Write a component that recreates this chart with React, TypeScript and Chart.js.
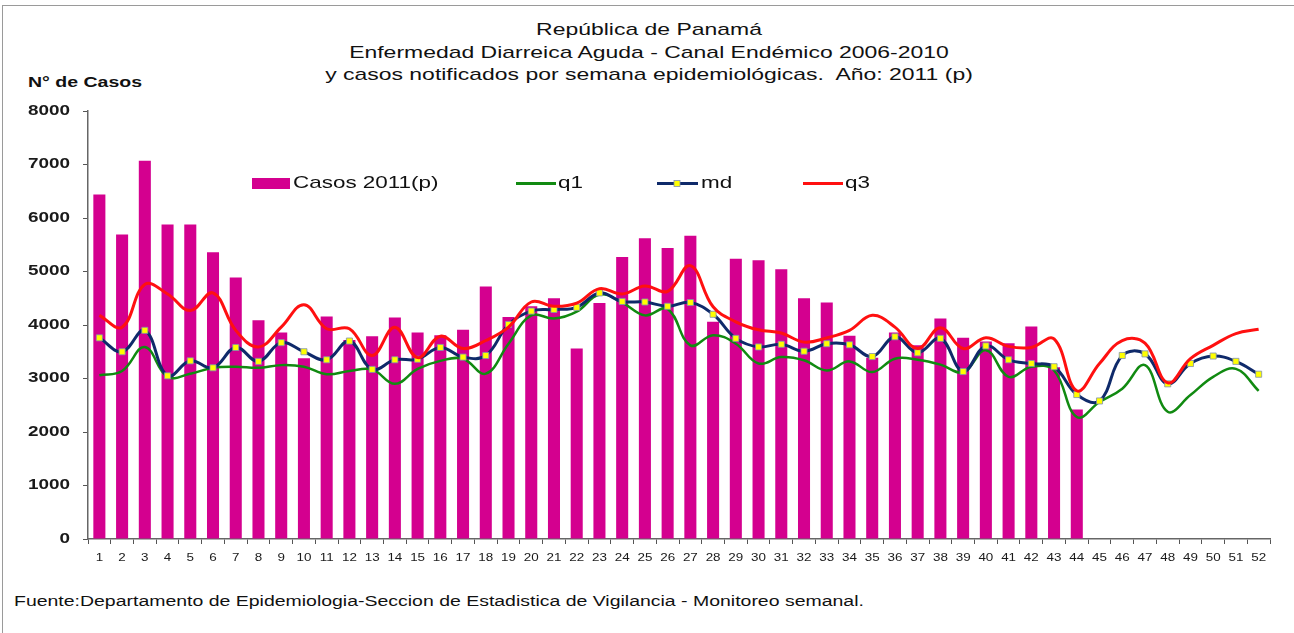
import React, { useEffect, useRef } from "react";
import { Chart, registerables } from "chart.js";

Chart.register(...registerables);

const weeks = ["1","2","3","4","5","6","7","8","9","10","11","12","13","14","15","16","17","18","19","20","21","22","23","24","25","26","27","28","29","30","31","32","33","34","35","36","37","38","39","40","41","42","43","44","45","46","47","48","49","50","51","52"];

const casos2011 = [6440, 5690, 7070, 5880, 5880, 5360, 4890, 4090, 3860, 3380, 4160, 3720, 3790, 4140, 3860, 3810, 3910, 4720, 4150, 4350, 4500, 3560, 4410, 5270, 5620, 5440, 5670, 4060, 5240, 5210, 5040, 4500, 4420, 3800, 3390, 3860, 3620, 4120, 3760, 3690, 3660, 3970, 3210, 2420];

const q1 = [3060, 3140, 3590, 3030, 3090, 3200, 3220, 3200, 3250, 3220, 3080, 3140, 3170, 2900, 3180, 3330, 3370, 3090, 3650, 4180, 4120, 4250, 4570, 4420, 4180, 4300, 3620, 3810, 3650, 3280, 3400, 3340, 3150, 3320, 3120, 3370, 3350, 3260, 3120, 3530, 3030, 3220, 3150, 2280, 2560, 2810, 3250, 2380, 2690, 3030, 3180, 2770];

const md = [3760, 3500, 3900, 3050, 3330, 3200, 3580, 3320, 3670, 3500, 3350, 3700, 3170, 3350, 3360, 3580, 3400, 3430, 4010, 4260, 4290, 4330, 4600, 4440, 4430, 4350, 4420, 4200, 3750, 3590, 3640, 3510, 3650, 3630, 3410, 3780, 3480, 3750, 3130, 3610, 3350, 3280, 3220, 2700, 2580, 3430, 3460, 2900, 3280, 3420, 3320, 3080];

const q3 = [4180, 3960, 4760, 4580, 4270, 4600, 3900, 3590, 3960, 4380, 3930, 3930, 3430, 3960, 3390, 3790, 3560, 3710, 3960, 4430, 4350, 4410, 4680, 4580, 4730, 4630, 5110, 4340, 4060, 3910, 3850, 3680, 3760, 3900, 4180, 3960, 3560, 3950, 3560, 3760, 3600, 3580, 3740, 2770, 3280, 3710, 3660, 2920, 3370, 3620, 3840, 3920];

const yTicks = [0, 1000, 2000, 3000, 4000, 5000, 6000, 7000, 8000];

const titleLines = [
  "República de Panamá",
  "Enfermedad Diarreica Aguda - Canal Endémico 2006-2010",
  "y casos notificados por semana epidemiológicas.  Año: 2011 (p)",
];
const yAxisTitle = "N° de Casos";
const sourceNote = "Fuente:Departamento de Epidemiologia-Seccion de Estadistica de Vigilancia - Monitoreo semanal.";
const legendLabels = ["Casos 2011(p)", "q1", "md", "q3"];

const BAR = "#d4008f";
const GREEN = "#118a11";
const NAVY = "#0f2a6a";
const RED = "#ff1010";
const FONT = "'Liberation Sans', Arial, sans-serif";

const customDraw = {
  id: "customDraw",
  afterDraw(chart: any) {
    const ctx = chart.ctx as CanvasRenderingContext2D;
    const xs = chart.scales.x;
    const ys = chart.scales.y;
    ctx.save();
    ctx.fillStyle = "#1a1a1a";
    // y tick labels
    ctx.font = `bold 14px ${FONT}`;
    ctx.textAlign = "right";
    ctx.textBaseline = "middle";
    yTicks.forEach((v) => {
      const py = ys.getPixelForValue(v);
      ctx.save();
      ctx.translate(70, py);
      ctx.scale(1.35, 1);
      ctx.fillText(String(v), 0, 0);
      ctx.restore();
    });
    // x tick labels
    ctx.font = `11px ${FONT}`;
    ctx.textAlign = "center";
    weeks.forEach((w, i) => {
      const px = xs.getPixelForValue(i);
      ctx.save();
      ctx.translate(px, 558);
      ctx.scale(1.22, 1);
      ctx.fillText(w, 0, 0);
      ctx.restore();
    });
    // legend
    const ly = 183.5;
    ctx.font = `17px ${FONT}`;
    ctx.textAlign = "left";
    ctx.fillStyle = BAR;
    ctx.fillRect(252, 178, 38, 11);
    const drawText = (t: string, x: number) => {
      ctx.save();
      ctx.fillStyle = "#111";
      ctx.translate(x, ly);
      ctx.scale(1.32, 1);
      ctx.fillText(t, 0, 0);
      ctx.restore();
    };
    drawText(legendLabels[0], 293);
    const line = (x1: number, x2: number, c: string) => {
      ctx.strokeStyle = c;
      ctx.lineWidth = 3;
      ctx.beginPath();
      ctx.moveTo(x1, ly);
      ctx.lineTo(x2, ly);
      ctx.stroke();
    };
    line(516, 556, GREEN);
    drawText(legendLabels[1], 558);
    line(657, 698, NAVY);
    ctx.fillStyle = "#ffff00";
    ctx.fillRect(674, 180.5, 6, 6);
    ctx.strokeStyle = "#8090b0";
    ctx.lineWidth = 0.8;
    ctx.strokeRect(674, 180.5, 6, 6);
    drawText(legendLabels[2], 701);
    line(803, 843, RED);
    drawText(legendLabels[3], 845);
    ctx.restore();
  },
};

export default function App() {
  const ref = useRef<HTMLCanvasElement>(null);
  useEffect(() => {
    if (!ref.current) return;
    const chart = new Chart(ref.current, {
      type: "bar",
      data: {
        labels: weeks,
        datasets: [
          {
            type: "line",
            label: "q3",
            data: q3,
            borderColor: RED,
            backgroundColor: RED,
            borderWidth: 3,
            pointRadius: 0,
            tension: 0.4,
            order: 1,
          } as any,
          {
            type: "line",
            label: "md",
            data: md,
            borderColor: NAVY,
            backgroundColor: "#ffff00",
            borderWidth: 3,
            pointStyle: "rect",
            pointRadius: 4.3,
            pointBorderColor: "#8090b0",
            pointBorderWidth: 0.8,
            pointBackgroundColor: "#ffff00",
            tension: 0.4,
            order: 2,
          } as any,
          {
            type: "line",
            label: "q1",
            data: q1,
            borderColor: GREEN,
            backgroundColor: GREEN,
            borderWidth: 2.5,
            pointRadius: 0,
            tension: 0.4,
            order: 3,
          } as any,
          {
            type: "bar",
            label: "Casos 2011(p)",
            data: casos2011,
            backgroundColor: BAR,
            barPercentage: 0.53,
            categoryPercentage: 1,
            order: 4,
          },
        ],
      },
      options: {
        animation: false,
        responsive: true,
        maintainAspectRatio: false,
        layout: { padding: { left: 0, top: 111, right: 24, bottom: 64 } },
        plugins: {
          legend: { display: false },
          tooltip: { enabled: false },
          title: { display: false },
        },
        scales: {
          x: {
            type: "category",
            offset: true,
            afterFit: (a: any) => {
              a.height = 30;
            },
            grid: {
              display: true,
              drawOnChartArea: false,
              drawTicks: true,
              tickLength: 5,
              color: "#555",
              lineWidth: 1,
              offset: true,
            },
            border: { display: true, color: "#666", width: 1.5 },
            ticks: { display: false, autoSkip: false },
          },
          y: {
            min: 0,
            max: 8000,
            afterFit: (a: any) => {
              a.width = 88;
            },
            ticks: { display: false, stepSize: 1000 },
            grid: {
              display: true,
              drawOnChartArea: false,
              drawTicks: true,
              tickLength: 5,
              color: "#555",
            },
            border: { display: true, color: "#666", width: 1.5 },
          },
        },
      },
      plugins: [customDraw],
    });
    return () => chart.destroy();
  }, []);

  const textBase: React.CSSProperties = {
    position: "absolute",
    whiteSpace: "pre",
    fontFamily: FONT,
    color: "#111",
    lineHeight: "20px",
  };

  return (
    <div style={{ position: "absolute", left: 0, top: 0, width: 1294, height: 633, background: "#fff", overflow: "hidden" }}>
      <div style={{ position: "absolute", left: 2, top: 5, right: 0, bottom: 0, borderTop: "1px solid #9a9a9a", borderLeft: "1px solid #9a9a9a" }} />
      {titleLines.map((t, i) => (
        <div
          key={i}
          style={{
            ...textBase,
            left: 0,
            width: 1298,
            top: 20 + i * 22.5,
            fontSize: 17,
            textAlign: "center",
            transform: "scaleX(1.35)",
            transformOrigin: "649px 50%",
          }}
        >
          {t}
        </div>
      ))}
      <div style={{ ...textBase, left: 28, top: 72, fontSize: 15, fontWeight: "bold", transform: "scaleX(1.3)", transformOrigin: "0 50%" }}>
        {yAxisTitle}
      </div>
      <div style={{ ...textBase, left: 14, top: 591, fontSize: 14, transform: "scaleX(1.39)", transformOrigin: "0 50%" }}>
        {sourceNote}
      </div>
      <div style={{ position: "absolute", left: 0, top: 0, width: 1294, height: 633 }}>
        <canvas ref={ref} />
      </div>
    </div>
  );
}
